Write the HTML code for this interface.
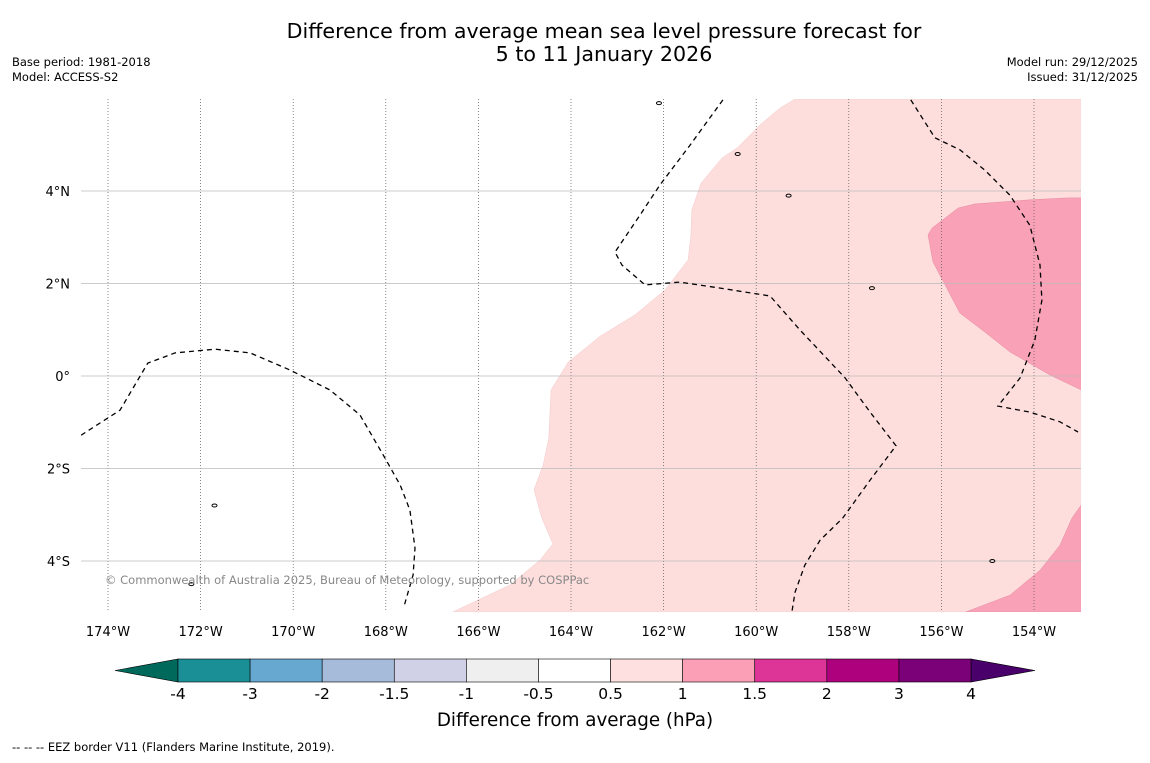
<!DOCTYPE html>
<html><head><meta charset="utf-8"><style>
body{margin:0;background:#fff;font-family:"Liberation Sans","DejaVu Sans",sans-serif;}
svg text{font-family:"DejaVu Sans","Liberation Sans",sans-serif;}
</style></head><body>
<svg id="chart" width="1150" height="758" xmlns="http://www.w3.org/2000/svg">
<rect width="1150" height="758" fill="#fff"/>
<text x="604" y="38" font-size="20.6" text-anchor="middle">Difference from average mean sea level pressure forecast for</text>
<text x="604" y="61" font-size="20.6" text-anchor="middle">5 to 11 January 2026</text>
<text x="12" y="66" font-size="11.5">Base period: 1981-2018</text>
<text x="12" y="81" font-size="11.5">Model: ACCESS-S2</text>
<text x="1138" y="66" font-size="11.5" text-anchor="end">Model run: 29/12/2025</text>
<text x="1138" y="81" font-size="11.5" text-anchor="end">Issued: 31/12/2025</text>
<g id="map"></g>
<g id="axes"></g>
<g id="cbar"></g>
<text x="575" y="726" font-size="18.3" text-anchor="middle">Difference from average (hPa)</text>
<text x="12" y="751" font-size="11.5">--  --  -- EEZ border V11 (Flanders Marine Institute, 2019).</text>
</svg>
<script>
const lonTicks=[-174,-172,-170,-168,-166,-164,-162,-160,-158,-156,-154];
const lonLabels=["174°W","172°W","170°W","168°W","166°W","164°W","162°W","160°W","158°W","156°W","154°W"];
const latTicks=[4,2,0,-2,-4];
const latLabels=["4°N","2°N","0°","2°S","4°S"];
const cbarLabels=["-4","-3","-2","-1.5","-1","-0.5","0.5","1","1.5","2","3","4"];
const cbarColors=["#1b8f96","#66a8d0","#a6bad9","#d0d0e6","#efefef","#ffffff","#fde0df","#fa9fb5","#dd3497","#ae017e","#7a0177"];
const extLow="#00695c", extHigh="#49006a";
const lightPinkLon=[-174.58,-174.58,-166.55,-165.32,-164.67,-164.39,-164.63,-164.80,-164.60,-164.48,-164.43,-164.06,-163.37,-162.62,-161.97,-161.47,-161.41,-161.39,-161.19,-160.74,-160.39,-159.92,-159.49,-159.16,-152.98,-152.98];
const lightPinkLat=[-5.10,-5.10,-5.10,-4.52,-3.98,-3.63,-3.07,-2.46,-1.92,-1.34,-0.30,0.30,0.86,1.32,1.86,2.51,3.05,3.59,4.17,4.71,4.95,5.43,5.79,5.99,5.99,-5.10];
const pink1Lon=[-156.29,-156.20,-155.64,-155.27,-154.73,-154.09,-153.27,-152.98,-152.98,-153.65,-154.52,-155.06,-155.60,-155.92,-156.18];
const pink1Lat=[3.05,3.20,3.63,3.72,3.76,3.81,3.85,3.85,-0.30,0.02,0.52,0.95,1.36,1.97,2.46];
const pink2Lon=[-155.47,-154.52,-153.87,-153.44,-153.18,-152.98,-152.98];
const pink2Lat=[-5.10,-4.74,-4.20,-3.66,-3.07,-2.79,-5.10];
const contourALon=[-174.58,-173.74,-173.14,-172.55,-171.69,-170.93,-170.07,-169.21,-168.56,-168.02,-167.69,-167.48,-167.37,-167.41,-167.61];
const contourALat=[-1.28,-0.74,0.28,0.50,0.58,0.50,0.13,-0.30,-0.84,-1.77,-2.36,-2.90,-3.72,-4.30,-4.99];
const contourBLon=[-160.72,-161.43,-162.08,-162.51,-163.05,-162.90,-162.40,-161.65,-160.78,-159.70,-159.05,-158.08,-157.54,-156.98,-157.54,-158.13,-158.62,-158.95,-159.16,-159.23];
const contourBLat=[5.97,4.99,4.13,3.48,2.68,2.40,1.97,2.03,1.90,1.73,0.99,-0.04,-0.78,-1.51,-2.25,-3.07,-3.55,-4.09,-4.67,-5.10];
const contourCLon=[-156.66,-156.14,-155.60,-155.06,-154.52,-154.09,-153.87,-153.83,-153.98,-154.30,-154.78,-154.09,-153.44,-153.05];
const contourCLat=[5.97,5.15,4.89,4.45,3.91,3.26,2.40,1.64,0.78,-0.04,-0.65,-0.78,-0.99,-1.21];
const islandLon=[-157.5,-159.3,-171.7,-172.2,-162.1,-160.4,-154.9];
const islandLat=[1.9,3.9,-2.8,-4.5,5.9,4.8,-4.0];

const NS="http://www.w3.org/2000/svg";
const X0=81,X1=1081,Y0=99,Y1=612;
const x=lon=>108+(lon+174)*46.3;
const y=lat=>376-lat*46.25;
function mk(tag,attrs,parent){const e=document.createElementNS(NS,tag);for(const k in attrs)e.setAttribute(k,attrs[k]);parent.appendChild(e);return e;}
const map=document.getElementById('map'),axes=document.getElementById('axes'),cbar=document.getElementById('cbar');
const cp=mk('clipPath',{id:'clip'},map);mk('rect',{x:X0,y:Y0,width:X1-X0,height:Y1-Y0},cp);
const g=mk('g',{'clip-path':'url(#clip)'},map);
function pts(lo,la){return lo.map((v,i)=>x(v).toFixed(1)+','+y(la[i]).toFixed(1)).join(' ');}
let p=mk('polygon',{points:pts(lightPinkLon.slice(2),lightPinkLat.slice(2)),fill:"#fddedd",stroke:"#f3c9c9","stroke-width":0.5},g);

p=mk('polygon',{points:pts(pink1Lon,pink1Lat),fill:"#f9a1b7",stroke:"#e88aa0","stroke-width":0.5},g);

p=mk('polygon',{points:pts(pink2Lon,pink2Lat),fill:"#f9a1b7",stroke:"#e88aa0","stroke-width":0.5},g);

lonTicks.forEach(v=>{const l=mk('line',{x1:x(v),x2:x(v),y1:Y0,y2:Y1,stroke:"#555","stroke-width":0.7,"stroke-dasharray":"1,2"},g);
});
latTicks.forEach(v=>{const l=mk('line',{x1:X0,x2:X1,y1:y(v),y2:y(v),stroke:"#bbb","stroke-width":0.8},g);
});
[[contourALon,contourALat],[contourBLon,contourBLat],[contourCLon,contourCLat]].forEach(c=>{
const l=mk('polyline',{points:pts(c[0],c[1]),fill:"none",stroke:"#000","stroke-width":1.3,"stroke-dasharray":"5,4"},g);
});
islandLon.forEach((v,i)=>{const e=mk('ellipse',{cx:x(v),cy:y(islandLat[i]),rx:2.5,ry:1.5,fill:"none",stroke:"#000","stroke-width":1},g);
});
lonTicks.forEach((v,i)=>{const t=mk('text',{x:x(v),y:636,"font-size":13,"text-anchor":"middle"},axes);t.textContent=lonLabels[i];
});
latTicks.forEach((v,i)=>{const t=mk('text',{x:70,y:y(v)+5,"font-size":13,"text-anchor":"end"},axes);t.textContent=latLabels[i];
});
const cb0=178,cb1=971,cy0=659,cy1=682,n=cbarColors.length,w=(cb1-cb0)/n;
let t=mk('polygon',{points:`115,${(cy0+cy1)/2} ${cb0},${cy0} ${cb0},${cy1}`,fill:extLow,stroke:"#000","stroke-width":0.6},cbar);

t=mk('polygon',{points:`1035,${(cy0+cy1)/2} ${cb1},${cy0} ${cb1},${cy1}`,fill:extHigh,stroke:"#000","stroke-width":0.6},cbar);

cbarColors.forEach((c,i)=>{const r=mk('rect',{x:cb0+i*w,y:cy0,width:w,height:cy1-cy0,fill:c,stroke:"#000","stroke-width":0.6},cbar);
});
cbarLabels.forEach((s,i)=>{const tx=mk('text',{x:cb0+i*w,y:699,"font-size":15.5,"text-anchor":"middle"},cbar);tx.textContent=s;
});
const cr=mk('text',{x:105,y:584,"font-size":11.5,fill:"#888"},map);cr.textContent="© Commonwealth of Australia 2025, Bureau of Meteorology, supported by COSPPac";

</script>
</body></html>
